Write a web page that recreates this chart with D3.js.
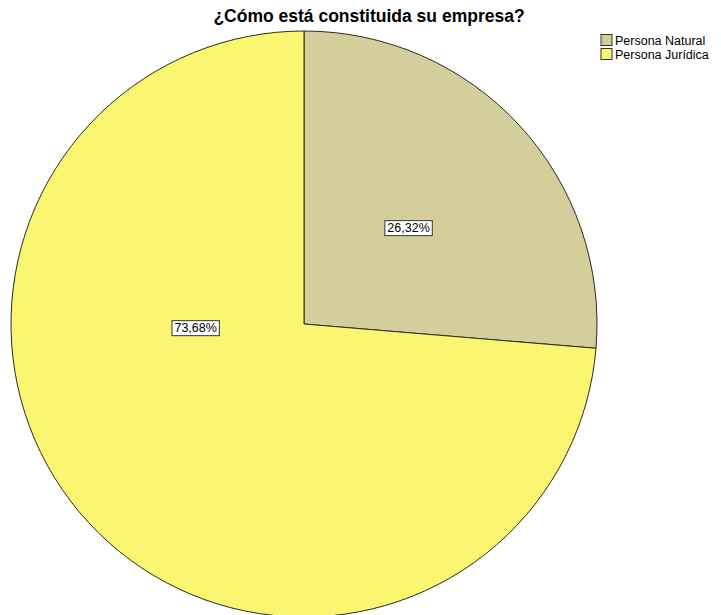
<!DOCTYPE html>
<html>
<head>
<meta charset="utf-8">
<script src="https://cdn.jsdelivr.net/npm/d3@7"></script>
<style>
  html, body { margin: 0; padding: 0; background: #fff; }
  svg { display: block; font-family: "Liberation Sans", Arial, sans-serif; }
</style>
</head>
<body>
<svg id="chart" width="721" height="615"></svg>
<script>
// Categories and their shares (percent)
const categories = ["Persona Natural", "Persona Jurídica"];
const percentages = [26.32, 73.68];
const sliceColors = ["#d4ce9c", "#faf671"];
const titleText = "¿Cómo está constituida su empresa?";

const svg = d3.select("#chart");
const W = 721, H = 615;
const cx = 304, cy = 324, R = 293;

svg.append("rect").attr("width", W).attr("height", H).attr("fill", "#fff");

const data = categories.map((c, i) => ({ name: c, value: percentages[i], color: sliceColors[i] }));

const pie = d3.pie().value(d => d.value).sort(null);
const arcs = pie(data);
const arc = d3.arc().innerRadius(0).outerRadius(R);

const g = svg.append("g").attr("transform", `translate(${cx},${cy})`);

g.selectAll("path.slice")
  .data(arcs)
  .join("path")
  .attr("class", "slice")
  .attr("d", arc)
  .attr("fill", d => d.data.color)
  .attr("stroke", "#2b2b1e")
  .attr("stroke-width", 1);

// Percentage labels in boxed text
const fmt = v => v.toFixed(2).replace(".", ",") + "%";
const labelPos = [
  // placed along each slice, toward the inner half
  d => { const a = (d.startAngle + d.endAngle) / 2; const r = R * 0.485; return [Math.sin(a) * r, -Math.cos(a) * r]; },
  d => { const a = 268 * Math.PI / 180; const r = R * 0.37; return [Math.sin(a) * r, -Math.cos(a) * r]; }
];

arcs.forEach((d, i) => {
  const [x, y] = labelPos[i](d);
  const lg = g.append("g").attr("transform", `translate(${x},${y})`);
  const t = lg.append("text")
    .attr("text-anchor", "middle")
    .attr("dy", "0.35em")
    .attr("font-size", 12.5)
    .attr("fill", "#000")
    .text(fmt(d.data.value));
  const bb = t.node().getBBox();
  lg.insert("rect", "text")
    .attr("x", bb.x - 2.5).attr("y", bb.y - 0.5)
    .attr("width", bb.width + 5).attr("height", bb.height + 1)
    .attr("fill", "#fff")
    .attr("stroke", "#333")
    .attr("stroke-width", 1);
});

// Title
svg.append("text")
  .attr("x", 369).attr("y", 22)
  .attr("text-anchor", "middle")
  .attr("font-size", 17.5)
  .attr("font-weight", "bold")
  .attr("fill", "#000")
  .text(titleText);

// Legend
const legend = svg.append("g").attr("transform", "translate(601,34.5)");
const items = legend.selectAll("g").data(data).join("g")
  .attr("transform", (d, i) => `translate(0,${i * 14})`);
items.append("rect")
  .attr("width", 11).attr("height", 11)
  .attr("fill", d => d.color)
  .attr("stroke", "#333").attr("stroke-width", 1);
items.append("text")
  .attr("x", 14).attr("y", 10)
  .attr("font-size", 12.5)
  .attr("fill", "#000")
  .text(d => d.name);
</script>
</body>
</html>
